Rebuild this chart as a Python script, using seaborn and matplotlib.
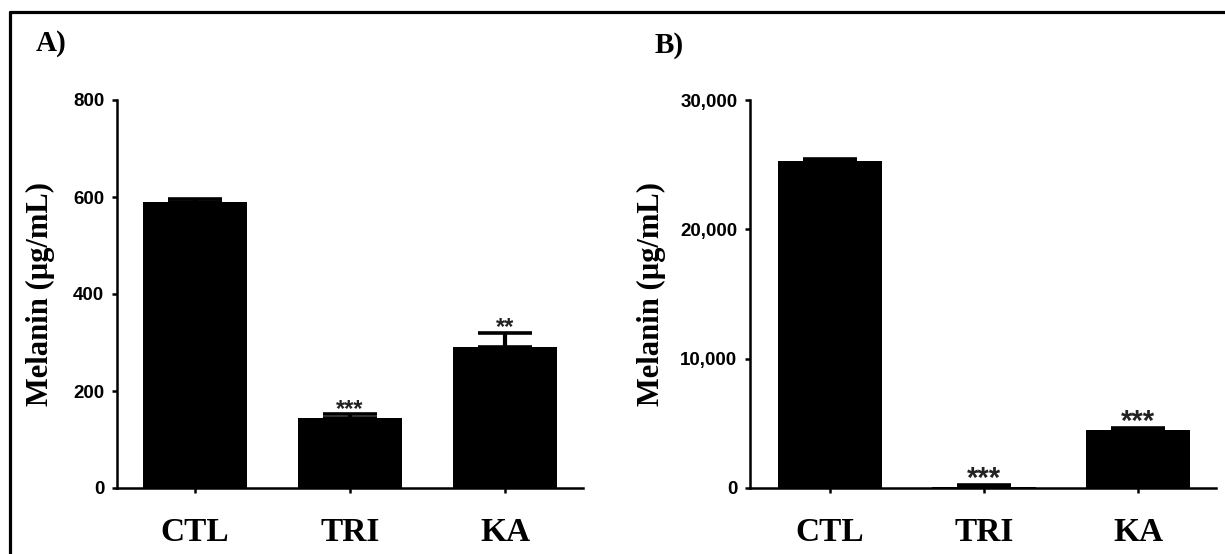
import matplotlib
matplotlib.use("Agg")
import matplotlib.pyplot as plt
from matplotlib.lines import Line2D
from matplotlib.ticker import FuncFormatter
import seaborn as sns
import pandas as pd

groups = ["CTL", "TRI", "KA"]

# panel A
melanin_a = [590, 145, 291]
sem_a = [6, 7, 29]
stars_a = ["", "***", "**"]

# panel B
melanin_b = [25280, 60, 4480]
sem_b = [135, 150, 135]
stars_b = ["", "***", "***"]

sns.set_style("ticks")
plt.rcParams["font.family"] = ["Liberation Sans", "DejaVu Sans"]
plt.rcParams["text.color"] = "black"
plt.rcParams["axes.labelcolor"] = "black"
plt.rcParams["xtick.color"] = "black"
plt.rcParams["ytick.color"] = "black"

SERIF = ["Liberation Serif", "DejaVu Serif"]
SANS = ["Liberation Sans", "DejaVu Sans"]

fig = plt.figure(figsize=(12.25, 5.54), dpi=100)
ax_a = fig.add_axes([117 / 1225, 66 / 554, 466 / 1225, 388 / 554])
ax_b = fig.add_axes([750 / 1225, 66 / 554, 466 / 1225, 388 / 554])


def draw_panel(ax, means, errs, stars, ymax, yticks, xlim, label_x, star_size, fmt):
    df = pd.DataFrame({"group": groups, "melanin": means})
    sns.barplot(data=df, x="group", y="melanin", order=groups, color="black",
                saturation=1, width=0.67, errorbar=None, linewidth=0, ax=ax)
    ax.errorbar(range(len(groups)), means, yerr=[[0] * len(errs), errs], fmt="none",
                ecolor="black", elinewidth=3, capsize=19.5, capthick=2.6, zorder=5)
    for i, (m, e, s) in enumerate(zip(means, errs, stars)):
        if s:
            ax.annotate(s, (i, m + e), xytext=(0, -1), textcoords="offset points",
                        ha="center", va="baseline", fontsize=star_size,
                        fontweight="bold", color="#222222", family=SANS)

    ax.set_ylim(0, ymax)
    ax.set_xlim(*xlim)
    ax.set_yticks(yticks)
    ax.yaxis.set_major_formatter(FuncFormatter(fmt))
    sns.despine(ax=ax)
    for sp in ["left", "bottom"]:
        ax.spines[sp].set_linewidth(1.8)
        ax.spines[sp].set_color("black")
    ax.tick_params(axis="y", length=3.6, width=1.8, pad=5.5, colors="black")
    ax.tick_params(axis="x", length=3.6, width=1.8, pad=17.5, colors="black")
    for t in ax.get_yticklabels():
        t.set_fontfamily(SANS)
        t.set_fontweight("bold")
        t.set_fontsize(13.5)
    for t in ax.get_xticklabels():
        t.set_fontfamily(SERIF)
        t.set_fontweight("bold")
        t.set_fontsize(24)
    ax.set_xlabel("")
    ax.set_ylabel("Melanin (µg/mL)", fontsize=22, fontweight="bold", family=SERIF,
                  color="black")
    ax.yaxis.set_label_coords(label_x, 0.5)
    ax.yaxis.label.set_va("center")


draw_panel(ax_a, melanin_a, sem_a, stars_a, 800, [0, 200, 400, 600, 800],
           (-0.503, 2.503), -0.165, 17, lambda v, p: f"{v:.0f}")
draw_panel(ax_b, melanin_b, sem_b, stars_b, 30000, [0, 10000, 20000, 30000],
           (-0.52, 2.506), -0.212, 21, lambda v, p: f"{v:,.0f}")

fig.text(0.042, 0.922, "A)", fontsize=21, fontweight="bold", family=SERIF,
         ha="center", va="center", color="black")
fig.text(0.546, 0.917, "B)", fontsize=21, fontweight="bold", family=SERIF,
         ha="center", va="center", color="black")

# outer frame (top and left edge only, the rest is cropped)
fig.add_artist(Line2D([9.5 / 1225, 1.0], [1 - 11.5 / 554, 1 - 11.5 / 554],
                      transform=fig.transFigure, color="black", lw=2.3))
fig.add_artist(Line2D([9.5 / 1225, 9.5 / 1225], [0.0, 1 - 11.5 / 554],
                      transform=fig.transFigure, color="black", lw=2.3))

fig.savefig("out.png", dpi=100, facecolor="white")
plt.close(fig)
